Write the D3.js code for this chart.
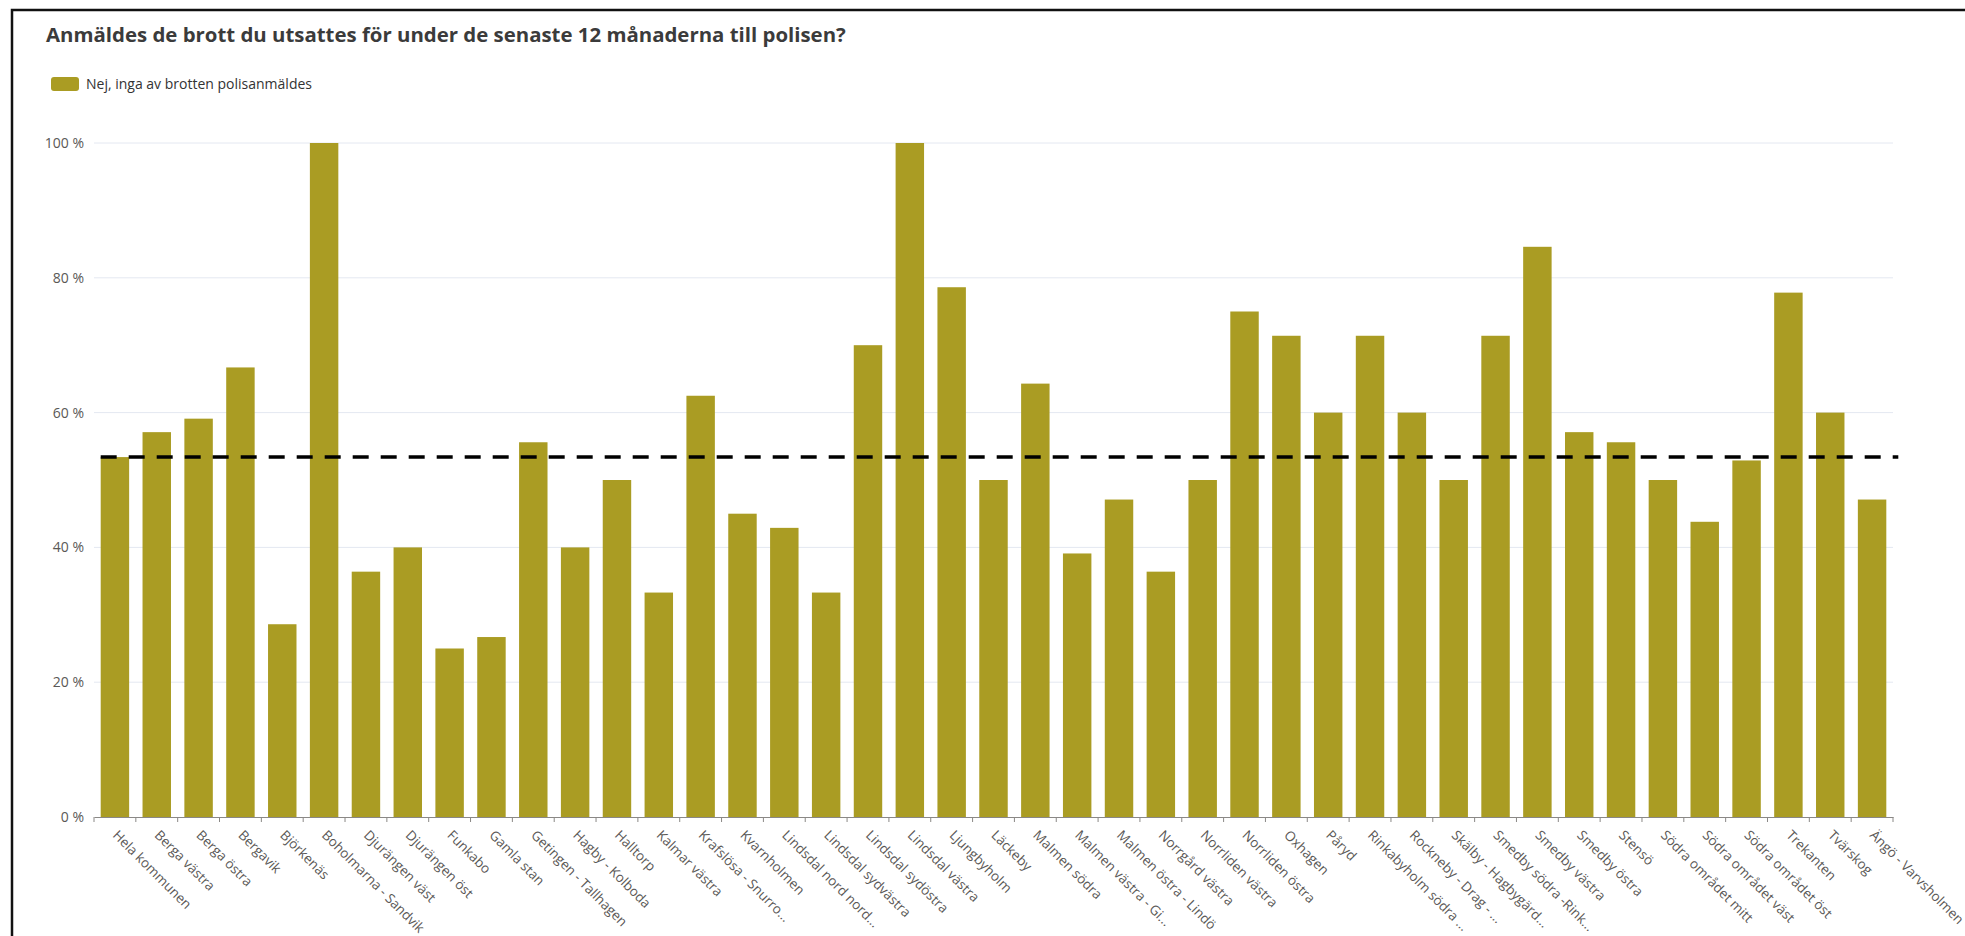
<!DOCTYPE html>
<html>
<head>
<meta charset="utf-8">
<script src="https://cdn.jsdelivr.net/npm/d3@7/dist/d3.min.js"></script>
<style>
  html, body { margin: 0; padding: 0; background: #fff; overflow: hidden; }
  text { font-family: "Open Sans", "Noto Sans", "DejaVu Sans", sans-serif; }
</style>
</head>
<body>
<svg id="chart" width="1965" height="936"></svg>
<script>
const titleText = "Anmäldes de brott du utsattes för under de senaste 12 månaderna till polisen?";
const seriesName = "Nej, inga av brotten polisanmäldes";

const categories = [
  "Hela kommunen", "Berga västra", "Berga östra", "Bergavik", "Björkenäs",
  "Boholmarna - Sandvik", "Djurängen väst", "Djurängen öst", "Funkabo", "Gamla stan",
  "Getingen - Tallhagen", "Hagby - Kolboda", "Halltorp", "Kalmar västra", "Krafslösa - Snurro...",
  "Kvarnholmen", "Lindsdal nord nord...", "Lindsdal sydvästra", "Lindsdal sydöstra", "Lindsdal västra",
  "Ljungbyholm", "Läckeby", "Malmen södra", "Malmen västra - Gi...", "Malmen östra - Lindö",
  "Norrgård västra", "Norrliden västra", "Norrliden östra", "Oxhagen", "Påryd",
  "Rinkabyholm södra ...", "Rockneby - Drag - ...", "Skälby - Hagbygärd...", "Smedby södra -Rink...", "Smedby västra",
  "Smedby östra", "Stensö", "Södra området mitt", "Södra området väst", "Södra området öst",
  "Trekanten", "Tvärskog", "Ängö - Varvsholmen"
];

const values = [
  53.4, 57.1, 59.1, 66.7, 28.6,
  100, 36.4, 40.0, 25.0, 26.7,
  55.6, 40.0, 50.0, 33.3, 62.5,
  45.0, 42.9, 33.3, 70.0, 100,
  78.6, 50.0, 64.3, 39.1, 47.1,
  36.4, 50.0, 75.0, 71.4, 60.0,
  71.4, 60.0, 50.0, 71.4, 84.6,
  57.1, 55.6, 50.0, 43.8, 52.9,
  77.8, 60.0, 47.1
];

const yTicks = [0, 20, 40, 60, 80, 100];
const refValue = 53.4;

const barColor = "#aa9c23";
const labelColor = "#5a5856";

const svg = d3.select("#chart");

// frame
svg.append("rect")
  .attr("x", 12).attr("y", 10)
  .attr("width", 2100).attr("height", 1100)
  .attr("fill", "none").attr("stroke", "#111").attr("stroke-width", 2.5);

// title
svg.append("text")
  .attr("x", 46).attr("y", 42)
  .attr("font-size", 20.4).attr("font-weight", 700)
  .attr("fill", "#3b3b3b")
  .text(titleText);

// legend
svg.append("rect")
  .attr("x", 51).attr("y", 77).attr("width", 28).attr("height", 14)
  .attr("rx", 3).attr("fill", barColor);
svg.append("text")
  .attr("x", 86).attr("y", 89)
  .attr("font-size", 14).attr("fill", "#333")
  .text(seriesName);

const x = d3.scaleBand()
  .domain(categories)
  .range([94, 1893])
  .paddingInner(0.32)
  .paddingOuter(0.16);

const y = d3.scaleLinear()
  .domain([0, 100])
  .range([817, 143]);

// gridlines
svg.append("g")
  .selectAll("line")
  .data(yTicks.filter(d => d > 0))
  .join("line")
  .attr("x1", 94).attr("x2", 1893)
  .attr("y1", d => y(d)).attr("y2", d => y(d))
  .attr("stroke", "#e4e8f1").attr("stroke-width", 1);

// y axis labels
const yAxis = svg.append("g")
  .attr("transform", "translate(84,0)")
  .call(d3.axisLeft(y).tickValues(yTicks).tickSize(0).tickPadding(0).tickFormat(d => d + " %"));
yAxis.select(".domain").remove();
yAxis.selectAll("text")
  .attr("font-size", 14)
  .attr("fill", labelColor)
  .attr("font-family", "Open Sans, Noto Sans, sans-serif");

// bars
svg.append("g")
  .selectAll("rect")
  .data(categories.map((c, i) => ({ c, v: values[i] })))
  .join("rect")
  .attr("x", d => x(d.c))
  .attr("width", x.bandwidth())
  .attr("y", d => y(d.v))
  .attr("height", d => y(0) - y(d.v))
  .attr("fill", barColor);

// x axis
const xAxis = svg.append("g")
  .attr("transform", `translate(0,${y(0)})`)
  .call(d3.axisBottom(x).tickSize(0).tickPadding(0));
xAxis.select(".domain")
  .attr("stroke", "#8a8886").attr("stroke-width", 1);
xAxis.selectAll("text")
  .attr("font-size", 13.5)
  .attr("fill", labelColor)
  .attr("font-family", "Open Sans, Noto Sans, sans-serif")
  .attr("text-anchor", "start")
  .attr("dy", 0)
  .attr("y", 0)
  .attr("transform", "translate(-3,19) rotate(45)");

// boundary ticks
const step = x.step();
const boundaries = categories.map(c => x(c) - step * x.paddingInner() / 2)
  .concat([x(categories[categories.length - 1]) + x.bandwidth() + step * x.paddingInner() / 2]);
svg.append("g")
  .selectAll("line")
  .data(boundaries)
  .join("line")
  .attr("x1", d => d).attr("x2", d => d)
  .attr("y1", y(0)).attr("y2", y(0) + 5)
  .attr("stroke", "#8a8886").attr("stroke-width", 1);

// reference dashed line
svg.append("line")
  .attr("x1", x(categories[0]))
  .attr("x2", x(categories[categories.length - 1]) + x.bandwidth() + 12)
  .attr("y1", y(refValue)).attr("y2", y(refValue))
  .attr("stroke", "#000").attr("stroke-width", 3.5)
  .attr("stroke-dasharray", "16,12");
</script>
</body>
</html>
